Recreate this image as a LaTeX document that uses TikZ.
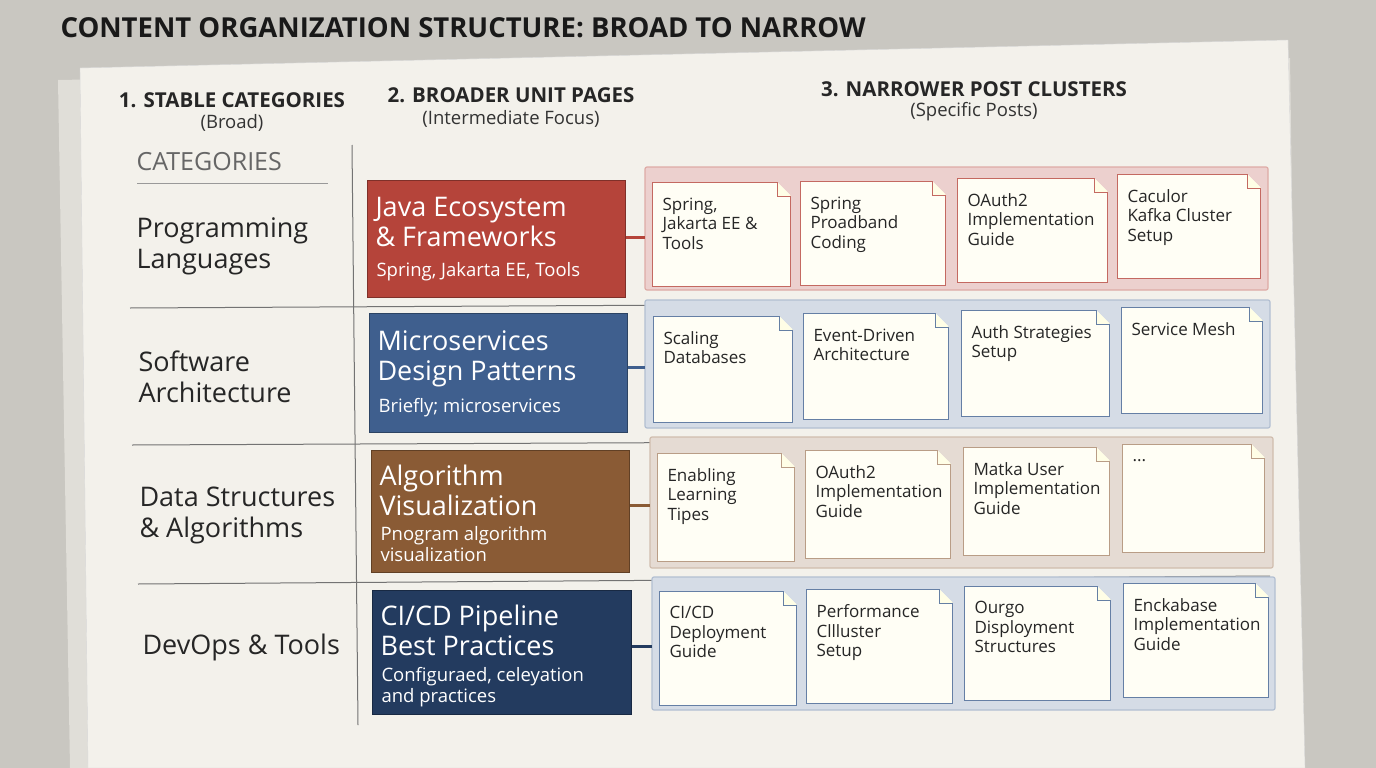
\documentclass[tikz,border=0pt]{standalone}
\usepackage{fontspec}
\setmainfont{Open Sans}
\begin{document}
\begin{tikzpicture}[x=1pt,y=-1pt,
  hdr/.style={font=\bfseries\fontsize{20.5}{22}\selectfont,text=black!85,align=center},
  sub/.style={font=\fontsize{18.5}{20}\selectfont,text=black!80},
  cat/.style={font=\fontsize{27}{31}\selectfont,text=black!85,align=left,anchor=west},
  unit/.style={draw=#1!70!black,fill=#1,line width=1pt,anchor=north west,inner sep=0pt},
  utext/.style={text=white,anchor=north west,align=left},
  clus/.style={line width=1.2pt,rounded corners=2pt},
  card/.style={draw=#1,fill=white!96!yellow,line width=1pt,anchor=north west,inner sep=0pt},
  ctext/.style={font=\fontsize{17}{19.5}\selectfont,text=black!85,align=left,anchor=north west},
  rule/.style={draw=black!55,line width=1pt}]
\definecolor{bg}{HTML}{C9C7C1}
\definecolor{paper}{HTML}{F3F1EB}
\definecolor{cred}{HTML}{B5443A}
\definecolor{cblue}{HTML}{3F5F8E}
\definecolor{cbrown}{HTML}{8A5B35}
\definecolor{cnavy}{HTML}{233B5F}
\useasboundingbox (0,0) rectangle (1376,768);
\fill[bg] (0,0) rectangle (1376,768);
\fill[paper!92!black] (58,80) -- (1290,58) -- (1300,768) -- (70,768) -- cycle;
\fill[paper,draw=black!15] (80,68) -- (1288,40) -- (1305,768) -- (88,768) -- cycle;
\node[anchor=west,font=\bfseries\fontsize{27.5}{30}\selectfont,text=black!90] (title) at (57,28) {CONTENT ORGANIZATION STRUCTURE: BROAD TO NARROW};
\node[hdr] (h1) at (232,100) {1. STABLE CATEGORIES};
\node[sub] (h1s) at (232,123) {(Broad)};
\node[hdr] (h2) at (511,95) {2. BROADER UNIT PAGES};
\node[sub] (h2s) at (511,119) {(Intermediate Focus)};
\node[hdr] (h3) at (974,89) {3. NARROWER POST CLUSTERS};
\node[sub] (h3s) at (974,112) {(Specific Posts)};
\node[anchor=west,font=\fontsize{25}{28}\selectfont,text=black!60] (cats) at (133,162) {CATEGORIES};
\draw[rule,black!40] (137,183) -- (328,183);
\draw[rule] (352,145) -- (358,725);
\draw[rule] (130,308) -- (1265,302);
\draw[rule] (132,445) -- (1268,440);
\draw[rule] (138,584) -- (1270,576);
\node[cat] (c1) at (133,246) {Programming\\Languages};
\node[cat] (c2) at (135,377) {Software\\Architecture};
\node[cat] (c3) at (136,515) {Data Structures\\\& Algorithms};
\node[cat] (c4) at (139,647) {DevOps \& Tools};
% clusters
\draw[clus,draw=cred!45,fill=cred!25] (645,167) rectangle (1268,290);
\draw[clus,draw=cblue!40,fill=cblue!22] (645,300) rectangle (1270,428);
\draw[clus,draw=cbrown!40,fill=cbrown!22] (650,437) rectangle (1273,568);
\draw[clus,draw=cblue!40,fill=cblue!22] (652,577) rectangle (1275,710);
% units
\node[unit=cred,minimum width=258,minimum height=117] (u1) at (367,180) {};
\node[unit=cblue,minimum width=258,minimum height=119] (u2) at (369,313) {};
\node[unit=cbrown,minimum width=258,minimum height=122] (u3) at (371,450) {};
\node[unit=cnavy,minimum width=259,minimum height=124] (u4) at (372,590) {};
\node[utext,font=\fontsize{27}{30}\selectfont] at (372,194) {Java Ecosystem\\\& Frameworks};
\node[utext,font=\fontsize{18.5}{21}\selectfont] at (373,259) {Spring, Jakarta EE, Tools};
\node[utext,font=\fontsize{27}{30}\selectfont] at (374,327) {Microservices\\Design Patterns};
\node[utext,font=\fontsize{18.5}{21}\selectfont] at (375,395) {Briefly; microservices};
\node[utext,font=\fontsize{27}{30}\selectfont] at (376,461) {Algorithm\\Visualization};
\node[utext,font=\fontsize{18.5}{21}\selectfont,text=white!90] at (377,523) {Pnogram algorithm\\visualization};
\node[utext,font=\fontsize{27}{30}\selectfont] at (377,601) {CI/CD Pipeline\\Best Practices};
\node[utext,font=\fontsize{18.5}{21}\selectfont,text=white!90] at (378,664) {Configuraed, celeyation\\and practices};
\coordinate (k1) at (645,237); \coordinate (k2) at (645,367);
\coordinate (k3) at (650,505); \coordinate (k4) at (652,646);
\draw[cred,line width=3pt] (u1.east|-k1) -- (k1);
\draw[cblue,line width=3pt] (u2.east|-k2) -- (k2);
\draw[cbrown,line width=3pt] (u3.east|-k3) -- (k3);
\draw[cnavy,line width=3pt] (u4.east|-k4) -- (k4);
% cards
\newcommand{\mycard}[8]{%
  \node[card=#6,minimum width=#4,minimum height=#5] (#1) at (#2,#3) {};
  \fill[#7] (#1.north east) ++(-14,0) -- ++(14,0) -- ++(0,14) -- cycle;
  \draw[#6,line width=1pt,fill=white!90!yellow] (#1.north east) ++(-14,0) -- ++(0,14) -- ++(14,0);
  \node[ctext] at ([shift={(7,12)}]#1.north west) {#8};}
\mycard{r1a}{652}{182}{138}{104}{cred!80}{cred!25}{Spring,\\Jakarta EE \&\\Tools}
\mycard{r1b}{800}{181}{145}{104}{cred!80}{cred!25}{Spring\\Proadband\\Coding}
\mycard{r1c}{957}{178}{150}{104}{cred!80}{cred!25}{OAuth2\\Implementation\\Guide}
\mycard{r1d}{1117}{174}{143}{104}{cred!80}{cred!25}{Caculor\\Kafka Cluster\\Setup}
\mycard{r2a}{653}{316}{139}{106}{cblue!80}{cblue!22}{Scaling\\Databases}
\mycard{r2b}{803}{313}{145}{106}{cblue!80}{cblue!22}{Event-Driven\\Architecture}
\mycard{r2c}{961}{310}{148}{106}{cblue!80}{cblue!22}{Auth Strategies\\Setup}
\mycard{r2d}{1121}{307}{141}{106}{cblue!80}{cblue!22}{Service Mesh}
\mycard{r3a}{657}{453}{137}{108}{cbrown!60}{cbrown!22}{Enabling\\Learning\\Tipes}
\mycard{r3b}{805}{450}{145}{108}{cbrown!60}{cbrown!22}{OAuth2\\Implementation\\Guide}
\mycard{r3c}{963}{447}{146}{108}{cbrown!60}{cbrown!22}{Matka User\\Implementation\\Guide}
\mycard{r3d}{1122}{444}{142}{108}{cbrown!60}{cbrown!22}{...}
\mycard{r4a}{659}{591}{137}{114}{cblue!80}{cblue!22}{CI/CD\\Deployment\\Guide}
\mycard{r4b}{806}{589}{146}{114}{cblue!80}{cblue!22}{Performance\\Cllluster\\Setup}
\mycard{r4c}{964}{586}{146}{114}{cblue!80}{cblue!22}{Ourgo\\Disployment\\Structures}
\mycard{r4d}{1123}{583}{145}{114}{cblue!80}{cblue!22}{Enckabase\\Implementation\\Guide}
\end{tikzpicture}
\end{document}
